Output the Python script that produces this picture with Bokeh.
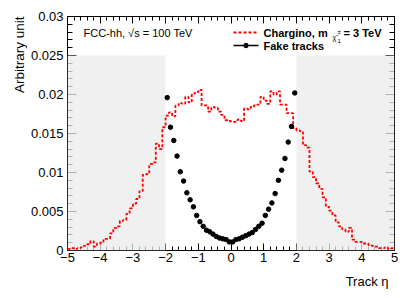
import numpy as np
from bokeh.plotting import figure
from bokeh.models import (Range1d, LinearAxis, FixedTicker, BoxAnnotation, Label, Title,
                          CustomJSTickFormatter)
from bokeh.embed import file_html
from bokeh.resources import INLINE

# ---------------- data ----------------
eta_min, eta_max, n_bins = -5.0, 5.0, 100
# Chargino (m = 3 TeV) track-eta histogram, 0.1 wide bins from -5 to 5
chargino = [
    0.0002, 0.0003, 0.0002, 0.0003, 0.0004, 0.0006, 0.0008, 0.0012, 0.0005, 0.0009,
    0.0010, 0.0015, 0.0015, 0.0022, 0.0029, 0.0031, 0.0038, 0.0039, 0.0047, 0.0054,
    0.0060, 0.0066, 0.0076, 0.0097, 0.0098, 0.0111, 0.0113, 0.0137, 0.0130, 0.0158,
    0.0173, 0.0177, 0.0172, 0.0186, 0.0189, 0.0188, 0.0197, 0.0190, 0.0201, 0.0203,
    0.0206, 0.0186, 0.0186, 0.0178, 0.0184, 0.0183, 0.0178, 0.0174, 0.0167, 0.0166,
    0.0165, 0.0165, 0.0168, 0.0166, 0.0182, 0.0181, 0.0184, 0.0186, 0.0187, 0.0197,
    0.0192, 0.0188, 0.0204, 0.0200, 0.0204, 0.0187, 0.0187, 0.0176, 0.0176, 0.0157,
    0.0154, 0.0153, 0.0135, 0.0132, 0.0101, 0.0094, 0.0086, 0.0079, 0.0068, 0.0056,
    0.0051, 0.0045, 0.0036, 0.0031, 0.0027, 0.0024, 0.0029, 0.0014, 0.0011, 0.0011,
    0.0009, 0.0009, 0.0007, 0.0006, 0.0005, 0.0003, 0.0003, 0.0004, 0.0002, 0.0003,
]
# Fake tracks, bin centres from -1.95 to 1.95
fake_eta = [-1.95, -1.85, -1.75, -1.65, -1.55, -1.45, -1.35, -1.25, -1.15, -1.05,
            -0.95, -0.85, -0.75, -0.65, -0.55, -0.45, -0.35, -0.25, -0.15, -0.05,
            0.05, 0.15, 0.25, 0.35, 0.45, 0.55, 0.65, 0.75, 0.85, 0.95,
            1.05, 1.15, 1.25, 1.35, 1.45, 1.55, 1.65, 1.75, 1.85, 1.95]
fake_val = [0.0196, 0.0158, 0.0141, 0.0121, 0.0101, 0.0089, 0.0074, 0.0065, 0.0056, 0.0045,
            0.0037, 0.0031, 0.0026, 0.0024, 0.0021, 0.0018, 0.0016, 0.0015, 0.0014, 0.0011,
            0.0011, 0.0014, 0.0015, 0.0017, 0.0019, 0.0021, 0.0023, 0.0027, 0.0031, 0.0035,
            0.0045, 0.0053, 0.0061, 0.0073, 0.0090, 0.0103, 0.0118, 0.0139, 0.0159, 0.0202]
# forward regions (shaded)
band_left = [-5.0, 2.0]
band_right = [-2.0, 5.0]
band_top = 0.025

x_ticks = [-5, -4, -3, -2, -1, 0, 1, 2, 3, 4, 5]
y_ticks = [0, 0.005, 0.01, 0.015, 0.02, 0.025, 0.03]
x_minor = [round(-5 + 0.2 * i, 1) for i in range(51)]
y_minor = [round(0.001 * i, 3) for i in range(31)]

FONT = "Liberation Sans"

# ---------------- figure ----------------
W, H = 415, 298
BL, BR, BT, BB = 67, 21, 16, 48
p = figure(width=W, height=H, x_range=Range1d(eta_min, eta_max), y_range=Range1d(0, 0.03),
           output_backend="svg", toolbar_location=None,
           x_axis_location=None, y_axis_location=None,
           min_border_left=BL, min_border_right=BR, min_border_top=BT, min_border_bottom=BB)
p.xgrid.visible = False
p.ygrid.visible = False
p.outline_line_color = "black"
p.background_fill_color = "white"
p.border_fill_color = "white"

# page px -> data helpers for annotation placement
FX0, FX1 = BL, W - BR
FY0, FY1 = BT, H - BB
def dx(px):
    return eta_min + (px - FX0) * (eta_max - eta_min) / (FX1 - FX0)
def dy(py):
    return (FY1 - py) * 0.03 / (FY1 - FY0)

xfmt = CustomJSTickFormatter(code="return tick.toString().replace('-', '\u2212');")
yfmt = CustomJSTickFormatter(code="return tick == 0 ? '0' : parseFloat(tick.toFixed(3)).toString();")
blank = CustomJSTickFormatter(code="return '';")

def style(ax, tin, minin, labels=True):
    ax.major_tick_in = tin
    ax.major_tick_out = 0
    ax.minor_tick_in = minin
    ax.minor_tick_out = 0
    ax.axis_line_color = "black"
    ax.major_tick_line_color = "black"
    ax.minor_tick_line_color = "black"
    ax.major_label_text_font = FONT
    ax.major_label_text_color = "black"
    if labels:
        ax.major_label_text_font_size = "13px"
    else:
        ax.major_label_text_font_size = "0px"

xb = LinearAxis(ticker=FixedTicker(ticks=x_ticks, minor_ticks=x_minor), formatter=xfmt)
style(xb, 7, 4)
xb.major_label_standoff = 2
xt = LinearAxis(ticker=FixedTicker(ticks=x_ticks, minor_ticks=x_minor), formatter=blank)
style(xt, 7, 4, labels=False)
xt.major_label_standoff = 0
yl = LinearAxis(ticker=FixedTicker(ticks=y_ticks, minor_ticks=y_minor), formatter=yfmt)
style(yl, 9, 5)
yl.major_label_standoff = 4
yr = LinearAxis(ticker=FixedTicker(ticks=y_ticks, minor_ticks=y_minor), formatter=blank)
style(yr, 9, 5, labels=False)
yr.major_label_standoff = 0
p.add_layout(xb, "below")
p.add_layout(xt, "above")
p.add_layout(yl, "left")
p.add_layout(yr, "right")

# axis titles (ROOT style: aligned to the end of the axis)
p.add_layout(Title(text="Track \u03b7", align="right", text_font=FONT, text_font_size="13px",
                   text_font_style="normal", text_color="black", offset=6, standoff=14), "below")
p.add_layout(Title(text="Arbitrary unit", align="right", text_font=FONT, text_font_size="13.5px",
                   text_font_style="normal", text_color="black", offset=0, standoff=2), "left")

# shaded forward regions (drawn above the ticks, semi-transparent)
for l, r in zip(band_left, band_right):
    p.add_layout(BoxAnnotation(left=l, right=r, bottom=0, top=band_top,
                               fill_color="#ebebeb", fill_alpha=0.75,
                               line_color=None, level="annotation"))

# chargino step histogram
edges = np.linspace(eta_min, eta_max, n_bins + 1)
step_y = list(chargino) + [chargino[-1]]
p.step(edges, step_y, mode="after", line_color="#ff0000", line_width=1.8,
       line_dash="3 2", level="overlay")

# fake tracks
p.scatter(fake_eta, fake_val, size=4.5, color="black", level="overlay")

# ---------------- texts ----------------
def lab(txt, px, py, size, bold=False, align="left", baseline="middle", angle=0.0):
    p.add_layout(Label(x=dx(px), y=dy(py), text=txt, text_font=FONT,
                       text_font_size=f"{size}px", text_font_style="bold" if bold else "normal",
                       text_align=align, text_baseline=baseline, angle=angle,
                       text_color="black"))

lab("FCC-hh, \u221as = 100 TeV", 83, 32, 11)

# legend
p.line([dx(233), dx(257)], [dy(32), dy(32)], line_color="#ff0000", line_width=1.8,
       line_dash="3 2", level="overlay")
p.line([dx(233), dx(258)], [dy(45), dy(45)], line_color="black", line_width=1.5, level="overlay")
p.scatter([dx(245.5)], [dy(45)], size=4.5, color="black", level="overlay")
lab("Chargino, m", 263, 32, 11, bold=True)
lab("\u03c7\u0303", 332, 37, 7)
lab("\u00b1", 337, 31, 6)
lab("1", 337, 40, 6)
lab("= 3 TeV", 343, 32, 11, bold=True)
lab("Fake tracks", 263, 45, 11, bold=True)

open("out.html", "w").write(file_html(p, INLINE))
